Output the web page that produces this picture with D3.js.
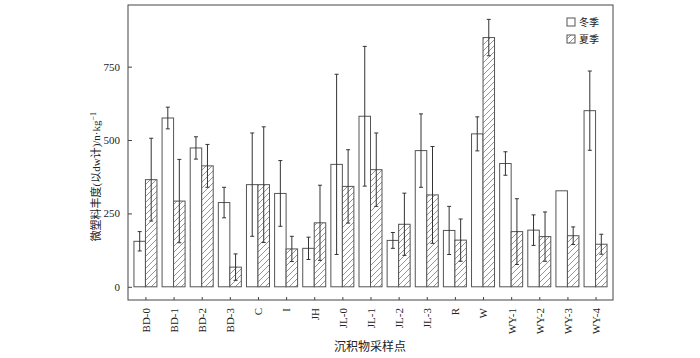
<!DOCTYPE html>
<html><head><meta charset="utf-8">
<script src="https://cdn.jsdelivr.net/npm/d3@7"></script>
<style>body{margin:0;background:#fff}svg{display:block}</style>
</head><body>
<script>
const categories = ["BD-0","BD-1","BD-2","BD-3","C","I","JH","JL-0","JL-1","JL-2","JL-3","R","W","WY-1","WY-2","WY-3","WY-4"];
const winter = [155,575,473,287,348,318,131,417,581,158,464,192,521,420,193,327,600];
const winterErr = [33,37,38,52,176,112,38,307,238,27,125,82,58,40,52,0,135];
const summer = [365,292,412,67,348,129,218,342,399,213,313,159,849,188,171,174,145];
const summerErr = [141,142,73,45,197,43,128,125,125,106,165,72,62,112,84,30,34];
const yTicks = [0,250,500,750];
const seriesNames = ["冬季","夏季"];

(function(){
const W = 700, H = 358;
const mLeft = 128, mRight = 613, mTop = 5, mBottom = 300;
const svg = d3.select("body").append("svg").attr("width", W).attr("height", H);
const defs = svg.append("defs");
const pat = defs.append("pattern").attr("id","hatch").attr("patternUnits","userSpaceOnUse")
  .attr("width",6).attr("height",6);
pat.append("rect").attr("width",6).attr("height",6).attr("fill","#fff");
pat.append("path").attr("d","M0,6 L6,0 M-1,1 L1,-1 M5,7 L7,5")
  .attr("stroke","#7a7a7a").attr("stroke-width",0.8);

const x = d3.scalePoint().domain(categories).range([mLeft, mRight]).padding(0.62);
const y = d3.scaleLinear().domain([-45, 960]).range([mBottom, mTop]);
const bw = 11.5;
const stroke = "#555";
const serif = "'Liberation Serif','DejaVu Serif',serif";
const mixed = "'Liberation Serif','Noto Sans CJK SC',serif";
const cjk = "'Noto Sans CJK SC',sans-serif";

const data = categories.map((c,i)=>({c, w:winter[i], we:winterErr[i], s:summer[i], se:summerErr[i]}));

const g = svg.append("g");
g.selectAll(".bw").data(data).join("rect")
  .attr("x", d=>x(d.c)-bw).attr("y", d=>y(d.w)).attr("width", bw).attr("height", d=>y(0)-y(d.w))
  .attr("fill","#fff").attr("stroke",stroke).attr("stroke-width",1);
g.selectAll(".bs").data(data).join("rect")
  .attr("x", d=>x(d.c)).attr("y", d=>y(d.s)).attr("width", bw).attr("height", d=>y(0)-y(d.s))
  .attr("fill","url(#hatch)").attr("stroke",stroke).attr("stroke-width",1);

function errBars(cx, v, e){
  if(!e) return;
  const eg = g.append("g").attr("stroke","#333").attr("stroke-width",1);
  eg.append("line").attr("x1",cx).attr("x2",cx).attr("y1",y(v+e)).attr("y2",y(v-e));
  eg.append("line").attr("x1",cx-2).attr("x2",cx+2).attr("y1",y(v+e)).attr("y2",y(v+e));
  eg.append("line").attr("x1",cx-2).attr("x2",cx+2).attr("y1",y(v-e)).attr("y2",y(v-e));
}
data.forEach(d=>{
  errBars(x(d.c)-bw/2, d.w, d.we);
  errBars(x(d.c)+bw/2, d.s, d.se);
});

svg.append("rect").attr("x",mLeft).attr("y",mTop).attr("width",mRight-mLeft).attr("height",mBottom-mTop)
  .attr("fill","none").attr("stroke","#444").attr("stroke-width",1);

const ya = svg.append("g").attr("transform",`translate(${mLeft},0)`)
  .call(d3.axisLeft(y).tickValues(yTicks).tickSizeInner(-4).tickSizeOuter(0).tickPadding(8));
ya.select(".domain").remove();
ya.selectAll("line").attr("stroke","#444");
ya.selectAll("text").attr("font-family",serif).attr("font-size",11).attr("fill","#222");

const xa = svg.append("g").attr("transform",`translate(0,${mBottom})`)
  .call(d3.axisBottom(x).tickSizeInner(-3).tickSizeOuter(0));
xa.select(".domain").remove();
xa.selectAll("line").attr("stroke","#444");
xa.selectAll("text").attr("font-family",serif).attr("font-size",11).attr("fill","#222")
  .attr("transform","rotate(-90)").attr("text-anchor","end").attr("x",-8).attr("y",0).attr("dy","0.35em");

const yt = svg.append("text").attr("transform",`translate(100,${(y(0)+y(750))/2}) rotate(-90)`)
  .attr("text-anchor","middle").attr("font-size",11).attr("fill","#222").attr("font-family",mixed);
yt.append("tspan").text("微塑料丰度(以dw计)/n·kg");
yt.append("tspan").attr("dy",-4).attr("font-size",8).text("−1");
svg.append("text").attr("x",370).attr("y",351).attr("text-anchor","middle")
  .attr("font-family",cjk).attr("font-size",12).attr("fill","#222").text("沉积物采样点");

const lg = svg.append("g");
[0,1].forEach(i=>{
  lg.append("rect").attr("x",567).attr("y",18+i*17).attr("width",8).attr("height",8)
    .attr("fill", i? "url(#hatch)":"#fff").attr("stroke",stroke);
  lg.append("text").attr("x",579).attr("y",26+i*17).attr("font-family",cjk).attr("font-size",10)
    .attr("fill","#222").text(seriesNames[i]);
});
})();
</script>
</body></html>
